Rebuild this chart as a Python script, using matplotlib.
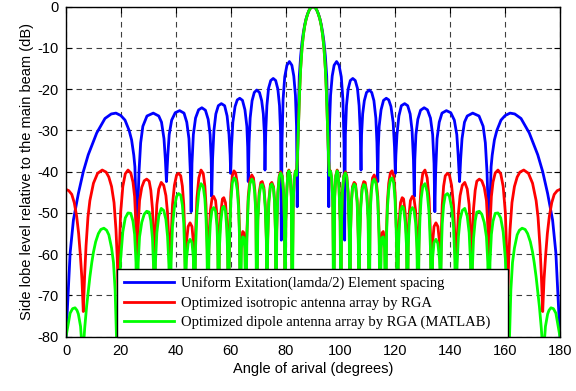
import matplotlib
matplotlib.use("Agg")
import matplotlib.pyplot as plt
from matplotlib.lines import Line2D

plt.rcParams['axes.unicode_minus'] = False

# ---------------- data (angle deg, level dB) ----------------
blue_pts = [
    (0, -80), (1.5, -59.7), (2.7, -51.7), (4.5, -45.3), (6.3, -40), (8.1, -35.9), (11.2, -30.6),
    (14.2, -27.1), (16.5, -26), (18.2, -25.8), (20, -26.4), (21.5, -27.5), (23, -30), (23.9, -32.3),
    (24.7, -36), (25.1, -38.8), (25.5, -48), (25.84, -75), (26.2, -48), (26.6, -40), (27.2, -33),
    (28.0, -29), (29.5, -26.5), (31.8, -25.8), (33.8, -26.5), (34.8, -28), (35.7, -32), (36.2, -37),
    (36.6, -42.4), (37.1, -36), (37.6, -31), (38.5, -27.5), (39.8, -25.7), (41.4, -25.2), (43.0, -25.8),
    (44.0, -28), (44.8, -32), (45.3, -40), (45.6, -49.7), (45.9, -38), (46.4, -31), (47.2, -27),
    (48.3, -25), (49.5, -24.5), (50.8, -25.1), (51.8, -27.3), (52.5, -31), (52.9, -37), (53.1, -46),
    (53.4, -37), (53.9, -30), (54.6, -26), (55.5, -24), (56.6, -23.5), (57.8, -24), (58.7, -26.5),
    (59.4, -31), (59.8, -36), (60.0, -40.4), (60.3, -34), (60.8, -28), (61.6, -24.2), (62.4, -22.6),
    (63.3, -22.2), (64.3, -22.7), (65.2, -25), (65.9, -29), (66.2, -34), (66.4, -42.4), (66.7, -33),
    (67.1, -27), (67.8, -22.8), (68.6, -20.8), (69.5, -20.2), (70.5, -20.8), (71.3, -22.8), (71.9, -26),
    (72.3, -31), (72.5, -39.6), (72.8, -30), (73.2, -24), (73.8, -19.8), (74.6, -17.9), (75.5, -17.4),
    (76.4, -17.9), (77.2, -20), (77.8, -24), (78.2, -31), (78.46, -56.6), (78.7, -33), (79.1, -22.5),
    (79.7, -17), (80.5, -14.2), (81.4, -13.3), (82.3, -14.2), (83.0, -16.8), (83.6, -21.5), (84.0, -29),
    (84.26, -48.5), (84.5, -30), (85, -16.9), (85.5, -12), (86, -8.6), (86.5, -6.2), (87, -4.3),
    (87.5, -2.9), (88, -1.8), (88.5, -1.0), (89, -0.4), (89.5, -0.1), (90, 0),
    (90.5, -0.1), (91, -0.4), (91.5, -1.0), (92, -1.8), (92.5, -2.9), (93, -4.3), (93.5, -6.2),
    (94, -8.6), (94.5, -12), (95, -16.9), (95.5, -30), (95.74, -48.5), (96.0, -29), (96.4, -21.5),
    (97.0, -16.8), (97.7, -14.2), (98.6, -13.3), (99.5, -14.2), (100.3, -17), (100.9, -22.5),
    (101.3, -33), (101.54, -56.6), (101.8, -31), (102.2, -24), (102.8, -20), (103.6, -17.9),
    (104.5, -17.4), (105.4, -17.9), (106.2, -19.8), (106.8, -24), (107.2, -30), (107.5, -39.6),
    (107.7, -31), (108.1, -26), (108.7, -22.8), (109.5, -20.8), (110.5, -20.2), (111.4, -20.8),
    (112.2, -22.8), (112.9, -27), (113.3, -33), (113.6, -42.4), (113.8, -34), (114.1, -29),
    (114.8, -25), (115.7, -22.7), (116.7, -22.2), (117.6, -22.6), (118.4, -24.2), (119.2, -28),
    (119.7, -34), (120.0, -40.4), (120.2, -36), (120.6, -31), (121.3, -26.5), (122.2, -24),
    (123.4, -23.5), (124.5, -24), (125.4, -26), (126.1, -30), (126.6, -37), (126.9, -46),
    (127.1, -37), (127.5, -31), (128.2, -27.3), (129.2, -25.1), (130.5, -24.5), (131.7, -25),
    (132.8, -27), (133.6, -31), (134.1, -38), (134.4, -49.7), (134.7, -40), (135.2, -32),
    (136.0, -28), (137.0, -25.8), (138.6, -25.2), (140.2, -25.7), (141.5, -27.5), (142.4, -31),
    (142.9, -36), (143.4, -42.4), (143.8, -37), (144.3, -32), (145.2, -28), (146.2, -26.5),
    (148.2, -25.8), (150.5, -26.5), (152.0, -29), (152.8, -33), (153.4, -40), (153.8, -48),
    (154.16, -75), (154.5, -48), (154.9, -38.8), (155.3, -36), (156.1, -32.3), (157.0, -30),
    (158.5, -27.5), (160, -26.4), (161.8, -25.8), (163.5, -26), (165.8, -27.1), (168.8, -30.6),
    (171.9, -35.9), (173.7, -40), (175.5, -45.3), (177.3, -51.7), (178.5, -59.7), (180, -80),
]

red_pts = [
    (0, -44.3), (1.0, -44.6), (2.1, -45.5), (3.0, -47.5), (3.9, -50.9), (4.6, -55), (5.2, -60),
    (5.8, -66), (6.3, -73.9), (6.8, -65), (7.3, -58), (8.0, -51), (8.7, -47), (10.0, -42.8),
    (11.5, -40.4), (13.2, -39.6), (14.6, -40.1), (15.6, -41.3), (16.6, -43.6), (17.5, -47.5),
    (18.2, -54), (18.7, -61.4), (19.1, -72), (19.5, -58), (19.9, -50), (20.7, -43.6), (21.6, -40.5),
    (22.6, -39.6), (23.6, -40.3), (24.4, -42.5), (25.0, -46), (25.5, -53), (25.9, -72), (26.3, -53),
    (26.8, -47), (27.6, -43.8), (28.5, -42.2), (29.4, -41.8), (30.3, -42.3), (30.9, -44.5),
    (31.5, -49), (31.9, -56), (32.2, -72), (32.6, -55), (33.1, -48), (33.8, -44.2), (34.7, -42.6),
    (35.6, -43.3), (36.4, -45.8), (37.0, -50), (37.5, -57), (37.9, -72), (38.3, -56), (38.8, -48),
    (39.5, -43.3), (40.3, -40.8), (41.0, -40.4), (41.8, -41), (42.4, -43.5), (42.9, -48),
    (43.2, -54), (43.5, -65), (43.9, -57), (44.5, -53.3), (45.2, -52.4), (45.9, -53.3), (46.4, -57),
    (46.8, -72), (47.2, -55), (47.7, -46.5), (48.4, -41.5), (49.2, -39.6), (50.0, -40.4),
    (50.6, -43.5), (51.0, -48), (51.4, -56), (51.7, -72), (52.1, -56), (52.6, -49.5), (53.2, -46.5),
    (53.8, -46), (54.5, -47), (55.0, -50.5), (55.3, -56), (55.6, -72), (55.9, -56), (56.4, -50),
    (57.0, -46.6), (57.5, -46.3), (58.1, -47.5), (58.6, -52), (58.9, -58), (59.2, -72), (59.6, -54),
    (60.1, -45), (60.6, -41), (61.2, -39.8), (61.8, -40.3), (62.4, -42.8), (62.9, -47.5),
    (63.2, -54), (63.5, -68), (63.9, -57), (64.4, -54.5), (64.8, -54.8), (65.2, -57.5), (65.5, -68),
    (65.9, -55), (66.4, -46), (67.0, -42), (67.7, -40.8), (68.3, -41.5), (68.8, -44.5), (69.2, -50),
    (69.5, -70), (69.9, -51), (70.4, -45), (71.0, -42.6), (71.5, -42.4), (72.1, -43.8), (72.6, -48),
    (73.0, -56), (73.2, -70), (73.5, -56), (73.9, -47), (74.5, -43), (75.0, -42.6), (75.6, -43.6),
    (76.0, -47), (76.3, -54), (76.5, -70), (76.8, -54), (77.2, -45), (77.7, -41), (78.2, -40),
    (78.8, -41), (79.3, -45), (79.6, -52), (79.8, -70), (80.1, -52), (80.5, -44), (80.9, -40.2),
    (81.2, -39.6), (81.7, -41), (82.1, -46), (82.4, -70), (82.8, -47), (83.2, -41.5), (83.6, -39.8),
    (84.0, -40.8), (84.3, -37), (84.7, -29), (85.1, -21), (85.5, -15), (86.0, -10), (86.5, -6.8),
    (87.0, -4.6), (87.5, -3.0), (88.0, -1.9), (88.5, -1.0), (89.0, -0.4), (89.5, -0.1), (90.0, 0),
    (90.5, -0.1), (91.0, -0.4), (91.5, -1.0), (92.0, -1.9), (92.5, -3.0), (93.0, -4.6), (93.5, -6.8),
    (94.0, -10), (94.5, -15), (94.9, -21), (95.3, -29), (95.7, -37), (96.0, -40.8), (96.4, -39.8),
    (96.8, -41.5), (97.2, -47), (97.6, -70), (97.9, -46), (98.3, -41), (98.8, -39.6), (99.1, -40.2),
    (99.5, -44), (99.9, -52), (100.2, -70), (100.4, -52), (100.7, -45), (101.2, -41), (101.8, -40),
    (102.3, -41), (102.8, -45), (103.2, -54), (103.5, -70), (103.7, -54), (104.0, -47),
    (104.4, -43.6), (105.0, -42.6), (105.5, -43), (106.1, -47), (106.5, -56), (106.8, -70),
    (107.0, -56), (107.4, -48), (107.9, -43.8), (108.5, -42.4), (109.0, -42.6), (109.6, -45),
    (110.1, -51), (110.5, -70), (110.8, -50), (111.2, -44.5), (111.7, -41.5), (112.3, -40.8),
    (113.0, -42), (113.6, -46), (114.1, -55), (114.5, -68), (114.8, -57.5), (115.2, -54.8),
    (115.6, -54.5), (116.1, -57), (116.5, -68), (116.8, -54), (117.1, -47.5), (117.6, -42.8),
    (118.2, -40.3), (118.8, -39.8), (119.4, -41), (119.9, -45), (120.4, -54), (120.8, -72),
    (121.1, -58), (121.4, -52), (121.9, -47.5), (122.5, -46.3), (123.0, -46.6), (123.6, -50),
    (124.1, -56), (124.4, -72), (124.7, -56), (125.0, -50.5), (125.5, -47), (126.2, -46),
    (126.8, -46.5), (127.4, -49.5), (127.9, -56), (128.3, -72), (128.6, -56), (129.0, -48),
    (129.4, -43.5), (130.0, -40.4), (130.8, -39.6), (131.6, -41.5), (132.3, -46.5), (132.8, -55),
    (133.2, -72), (133.6, -57), (134.1, -53.3), (134.8, -52.4), (135.5, -53.3), (136.1, -57),
    (136.5, -65), (136.8, -54), (137.1, -48), (137.6, -43.5), (138.2, -41), (139.0, -40.4),
    (139.7, -40.8), (140.5, -43.3), (141.2, -48), (141.7, -56), (142.1, -72), (142.5, -57),
    (143.0, -50), (143.6, -45.8), (144.4, -43.3), (145.3, -42.6), (146.2, -44.2), (146.9, -48),
    (147.4, -55), (147.8, -72), (148.1, -56), (148.5, -49), (149.1, -44.5), (149.7, -42.3),
    (150.6, -41.8), (151.5, -42.2), (152.4, -43.8), (153.2, -47), (153.7, -53), (154.1, -72),
    (154.5, -53), (155.0, -46), (155.6, -42.5), (156.4, -40.3), (157.4, -39.6), (158.4, -40.5),
    (159.3, -43.6), (160.1, -50), (160.5, -58), (160.9, -72), (161.3, -61.4), (161.8, -54),
    (162.5, -47.5), (163.4, -43.6), (164.4, -41.3), (165.4, -40.1), (166.8, -39.6), (168.5, -40.4),
    (170.0, -42.8), (171.3, -47), (172.0, -51), (172.7, -58), (173.2, -65), (173.7, -73.9),
    (174.2, -66), (174.8, -60), (175.4, -55), (176.1, -50.9), (177.0, -47.5), (177.9, -45.5),
    (179.0, -44.6), (180, -44.3),
]

green_pts = [
    (0, -80), (0.8, -77), (1.5, -74.3), (2.4, -73.2), (3.3, -73.0), (4.0, -73.6), (4.5, -74.5),
    (5.3, -77.5), (6.1, -85), (6.8, -78), (7.5, -72.7), (8.1, -69), (8.7, -65.5), (9.4, -62),
    (10.0, -59.5), (10.8, -57), (11.8, -55), (12.7, -54), (13.8, -53.7), (14.8, -54.2),
    (15.6, -55.3), (16.6, -58.5), (17.3, -62), (17.9, -68.7), (18.6, -85), (19.5, -69.5),
    (19.9, -61.2), (20.7, -54.6), (21.6, -51.2), (22.6, -50.0), (23.6, -50.1), (24.4, -52.0),
    (25.0, -55.2), (25.5, -62), (25.9, -85), (26.3, -62), (26.8, -55.8), (27.6, -52.3),
    (28.5, -50.3), (29.4, -49.6), (30.3, -49.8), (30.9, -51.9), (31.5, -56.2), (31.9, -63),
    (32.2, -85), (32.6, -62), (33.1, -54.8), (33.8, -50.8), (34.7, -48.9), (35.6, -49.4),
    (36.4, -51.6), (37.0, -55.7), (37.5, -62.5), (37.9, -85), (38.3, -61.5), (38.8, -53.3),
    (39.5, -48.6), (40.3, -46), (41.0, -45.3), (41.8, -45.7), (42.4, -48.1), (42.9, -52.5),
    (43.2, -58.5), (43.5, -69), (43.9, -61.2), (44.5, -57.4), (45.2, -56.4), (45.9, -57.2),
    (46.4, -60.8), (46.8, -85), (47.2, -58.6), (47.7, -50), (48.4, -44.9), (49.2, -42.9),
    (50.0, -43.6), (50.6, -46.6), (51.0, -51), (51.4, -59), (51.7, -85), (52.1, -58.9),
    (52.6, -52.4), (53.2, -49.3), (53.8, -48.7), (54.5, -49.6), (55.0, -53), (55.3, -58.5),
    (55.6, -85), (55.9, -58.3), (56.4, -52.2), (57.0, -48.8), (57.5, -48.4), (58.1, -49.5),
    (58.6, -54), (58.9, -60), (59.2, -85), (59.6, -55.8), (60.1, -46.8), (60.6, -42.7),
    (61.2, -41.5), (61.8, -41.9), (62.4, -44.4), (62.9, -49), (63.2, -55.5), (63.5, -85),
    (63.9, -58.4), (64.4, -55.8), (64.8, -56), (65.2, -58.7), (65.5, -85), (65.9, -56.1),
    (66.4, -47.1), (67.0, -43), (67.7, -41.8), (68.3, -42.4), (68.8, -45.4), (69.2, -50.8),
    (69.5, -85), (69.9, -51.8), (70.4, -45.8), (71.0, -43.3), (71.5, -43.1), (72.1, -44.4),
    (72.6, -48.6), (73.0, -56.6), (73.2, -85), (73.5, -56.5), (73.9, -47.5), (74.5, -43.5),
    (75.0, -43), (75.6, -44), (76.0, -47.4), (76.3, -54.3), (76.5, -85), (76.8, -54.3),
    (77.2, -45.3), (77.7, -41.3), (78.2, -40.3), (78.8, -41.2), (79.3, -45.2), (79.6, -52.2),
    (79.8, -85), (80.1, -52.2), (80.5, -44.2), (80.9, -40.4), (81.2, -39.8), (81.7, -41.1),
    (82.1, -46.1), (82.4, -85), (82.8, -47.1), (83.2, -41.6), (83.6, -39.9), (84.0, -40.9),
    (84.3, -37), (84.7, -29), (85.1, -21), (85.5, -15), (86.0, -10), (86.5, -6.8), (87.0, -4.6),
    (87.5, -3.0), (88.0, -1.9), (88.5, -1.0), (89.0, -0.4), (89.5, -0.1), (90.0, 0),
    (90.5, -0.1), (91.0, -0.4), (91.5, -1.0), (92.0, -1.9), (92.5, -3.0), (93.0, -4.6),
    (93.5, -6.8), (94.0, -10), (94.5, -15), (94.9, -21), (95.3, -29), (95.7, -37), (96.0, -40.9),
    (96.4, -39.9), (96.8, -41.6), (97.2, -47.1), (97.6, -85), (97.9, -46.1), (98.3, -41.1),
    (98.8, -39.8), (99.1, -40.4), (99.5, -44.2), (99.9, -52.2), (100.2, -85), (100.4, -52.2),
    (100.7, -45.2), (101.2, -41.2), (101.8, -40.3), (102.3, -41.3), (102.8, -45.3), (103.2, -54.3),
    (103.5, -85), (103.7, -54.3), (104.0, -47.4), (104.4, -44), (105.0, -43), (105.5, -43.5),
    (106.1, -47.5), (106.5, -56.5), (106.8, -85), (107.0, -56.6), (107.4, -48.6), (107.9, -44.4),
    (108.5, -43.1), (109.0, -43.3), (109.6, -45.8), (110.1, -51.8), (110.5, -85), (110.8, -50.8),
    (111.2, -45.4), (111.7, -42.4), (112.3, -41.8), (113.0, -43), (113.6, -47.1), (114.1, -56.1),
    (114.5, -85), (114.8, -58.7), (115.2, -56), (115.6, -55.8), (116.1, -58.4), (116.5, -85),
    (116.8, -55.5), (117.1, -49), (117.6, -44.4), (118.2, -41.9), (118.8, -41.5), (119.4, -42.7),
    (119.9, -46.8), (120.4, -55.8), (120.8, -85), (121.1, -60), (121.4, -54), (121.9, -49.5),
    (122.5, -48.4), (123.0, -48.8), (123.6, -52.2), (124.1, -58.3), (124.4, -85), (124.7, -58.5),
    (125.0, -53), (125.5, -49.6), (126.2, -48.7), (126.8, -49.3), (127.4, -52.4), (127.9, -58.9),
    (128.3, -85), (128.6, -59), (129.0, -51), (129.4, -46.6), (130.0, -43.6), (130.8, -42.9),
    (131.6, -44.9), (132.3, -50), (132.8, -58.6), (133.2, -85), (133.6, -60.8), (134.1, -57.2),
    (134.8, -56.4), (135.5, -57.4), (136.1, -61.2), (136.5, -69), (136.8, -58.5), (137.1, -52.5),
    (137.6, -48.1), (138.2, -45.7), (139.0, -45.3), (139.7, -46), (140.5, -48.6), (141.2, -53.3),
    (141.7, -61.5), (142.1, -85), (142.5, -62.5), (143.0, -55.7), (143.6, -51.6), (144.4, -49.4),
    (145.3, -48.9), (146.2, -50.8), (146.9, -54.8), (147.4, -62), (147.8, -85), (148.1, -63),
    (148.5, -56.2), (149.1, -51.9), (149.7, -49.8), (150.6, -49.6), (151.5, -50.3), (152.4, -52.3),
    (153.2, -55.8), (153.7, -62), (154.1, -85), (154.5, -62), (155.0, -55.2), (155.6, -52.0),
    (156.4, -50.1), (157.4, -50.0), (158.4, -51.2), (159.3, -54.6), (160.1, -61.2), (160.5, -69.5),
    (161.4, -85), (162.1, -68.7), (162.7, -62), (163.4, -58.5), (164.4, -55.3), (165.2, -54.2),
    (166.2, -53.7), (167.3, -54), (168.2, -55), (169.2, -57), (170.0, -59.5), (170.6, -62),
    (171.3, -65.5), (171.9, -69), (172.5, -72.7), (173.2, -78), (173.9, -85), (174.7, -77.5),
    (175.5, -74.5), (176.0, -73.6), (176.7, -73.0), (177.6, -73.2), (178.5, -74.3), (179.2, -77),
    (180, -80),
]

blue_angle = [p[0] for p in blue_pts]
blue_db = [p[1] for p in blue_pts]
red_angle = [p[0] for p in red_pts]
red_db = [p[1] for p in red_pts]
green_angle = [p[0] for p in green_pts]
green_db = [p[1] for p in green_pts]

x_ticks = [0, 20, 40, 60, 80, 100, 120, 140, 160, 180]
y_ticks = [0, -10, -20, -30, -40, -50, -60, -70, -80]
y_tick_labels = ['0', '-10', '-20', '-30', '-40', '-50', '-60', '-70', '-80']

labels = ['Uniform Exitation(lamda/2) Element spacing',
          'Optimized isotropic antenna array by RGA',
          'Optimized dipole antenna array by RGA (MATLAB)']

# ---------------- figure ----------------
fig = plt.figure(figsize=(5.76, 3.91), dpi=100)
ax = fig.add_axes([0.1146, 0.1389, 0.8576, 0.8440])

ax.plot(blue_angle, blue_db, color=(0, 0, 1), lw=2.0, solid_joinstyle='round')
ax.plot(red_angle, red_db, color=(1, 0, 0), lw=2.0, solid_joinstyle='round')
ax.plot(green_angle, green_db, color=(0, 1, 0), lw=2.0, solid_joinstyle='round')

ax.set_xlim(0, 180)
ax.set_ylim(-80, 0)
ax.set_xticks(x_ticks)
ax.set_yticks(y_ticks)
ax.set_yticklabels(y_tick_labels)

ax.set_axisbelow(True)
ax.grid(True, color='0.25', linestyle=(0, (5, 4)), linewidth=0.8)

for lab in ax.get_xticklabels() + ax.get_yticklabels():
    lab.set_fontfamily('Liberation Sans')
    lab.set_fontsize(10.5)
ax.tick_params(direction='in', length=4, width=0.8, top=True, right=True, pad=5)

for s in ax.spines.values():
    s.set_linewidth(1.0)
    s.set_color('black')

ax.set_xlabel('Angle of arival (degrees)', fontfamily='Liberation Sans', fontsize=10.5, labelpad=3)
ax.set_ylabel('Side lobe level relative to the main beam (dB)', fontfamily='Liberation Sans',
              fontsize=10.5, labelpad=3)

handles = [Line2D([], [], color=(0, 0, 1), lw=2.0),
           Line2D([], [], color=(1, 0, 0), lw=2.0),
           Line2D([], [], color=(0, 1, 0), lw=2.0)]
leg = ax.legend(handles, labels, loc='lower left',
                bbox_to_anchor=(0.1026, 0.0, 0.7915, 0.212), mode='expand', borderaxespad=0,
                prop={'family': 'Liberation Serif', 'size': 10.5},
                handlelength=3.4, handletextpad=0.5, labelspacing=0.42, borderpad=0.5,
                fancybox=False, framealpha=1, edgecolor='black')
leg.get_frame().set_linewidth(1.0)

fig.savefig('out.png', dpi=100)
